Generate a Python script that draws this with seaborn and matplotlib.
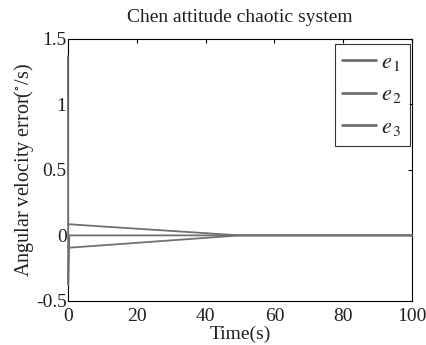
import numpy as np
import pandas as pd
import matplotlib
matplotlib.use("Agg")
import matplotlib.pyplot as plt
import seaborn as sns

# Synchronization error samples (time in seconds)
time = [0, 0.1, 0.4, 10, 20, 30, 40, 48, 50, 60, 80, 100]
e1 = [0.088, 0.086, 0.085, 0.068, 0.051, 0.034, 0.017, 0.003, 0.0, 0.0, 0.0, 0.0]
e2 = [1.37, -0.38, 0.0, 0.0, 0.0, 0.0, 0.0, 0.0, 0.0, 0.0, 0.0, 0.0]
e3 = [-0.078, -0.095, -0.094, -0.076, -0.057, -0.038, -0.019, -0.004, 0.0, 0.0, 0.0, 0.0]
series_labels = ["$e_{\\,1}$", "$e_{\\,2}$", "$e_{\\,3}$"]
x_ticks = [0, 20, 40, 60, 80, 100]
y_ticks = [-0.5, 0, 0.5, 1, 1.5]
y_tick_labels = ["-0.5", "0", "0.5", "1", "1.5"]

df = pd.DataFrame({
    "t": time * 3,
    "e": e1 + e2 + e3,
    "series": sum([[lab] * len(time) for lab in series_labels], []),
})

sns.set_theme(style="white")
plt.rcParams["font.family"] = ["Liberation Serif", "DejaVu Serif"]
plt.rcParams["mathtext.fontset"] = "stix"
plt.rcParams["xtick.direction"] = "in"
plt.rcParams["ytick.direction"] = "in"

fig = plt.figure(figsize=(4.27, 3.45), dpi=100)
ax = fig.add_axes([0.159, 0.128, 0.806, 0.759])

gray = "#707070"
sns.lineplot(data=df, x="t", y="e", hue="series",
             palette=[gray, gray, gray], linewidth=1.3, ax=ax,
             estimator=None, sort=False)
for ln in ax.get_lines():
    ln.set_clip_on(False)
    ln.set_zorder(3)

ax.set_xlim(0, 100)
ax.set_ylim(-0.5, 1.5)
ax.set_xticks(x_ticks)
ax.set_yticks(y_ticks)
ax.set_yticklabels(y_tick_labels)
ax.tick_params(axis="both", which="both", top=True, right=True, length=3,
               width=0.8, color="black", labelsize=14, pad=1, labelcolor="#202020")
ax.tick_params(axis="x", pad=5)
for s in ax.spines.values():
    s.set_color("black")
    s.set_linewidth(0.8)

ax.set_title("Chen attitude chaotic system", fontsize=14, pad=12, color="#202020")
ax.set_xlabel("Time(s)", fontsize=14, labelpad=1, color="#202020")
ax.set_ylabel("Angular velocity error($^{\\circ}$/s)", fontsize=14.5, labelpad=0,
              color="#202020")

leg = ax.legend(loc="upper right", bbox_to_anchor=(0.995, 0.98), fontsize=16,
                frameon=True, fancybox=False, handlelength=1.5,
                labelspacing=0.55, borderpad=0.35, handletextpad=0.25,
                borderaxespad=0.0)
leg.get_frame().set_edgecolor("black")
leg.get_frame().set_linewidth(0.8)
for h in leg.get_lines():
    h.set_linewidth(2.0)
for t in leg.get_texts():
    t.set_color("#202020")

fig.savefig("out.png", dpi=100)
